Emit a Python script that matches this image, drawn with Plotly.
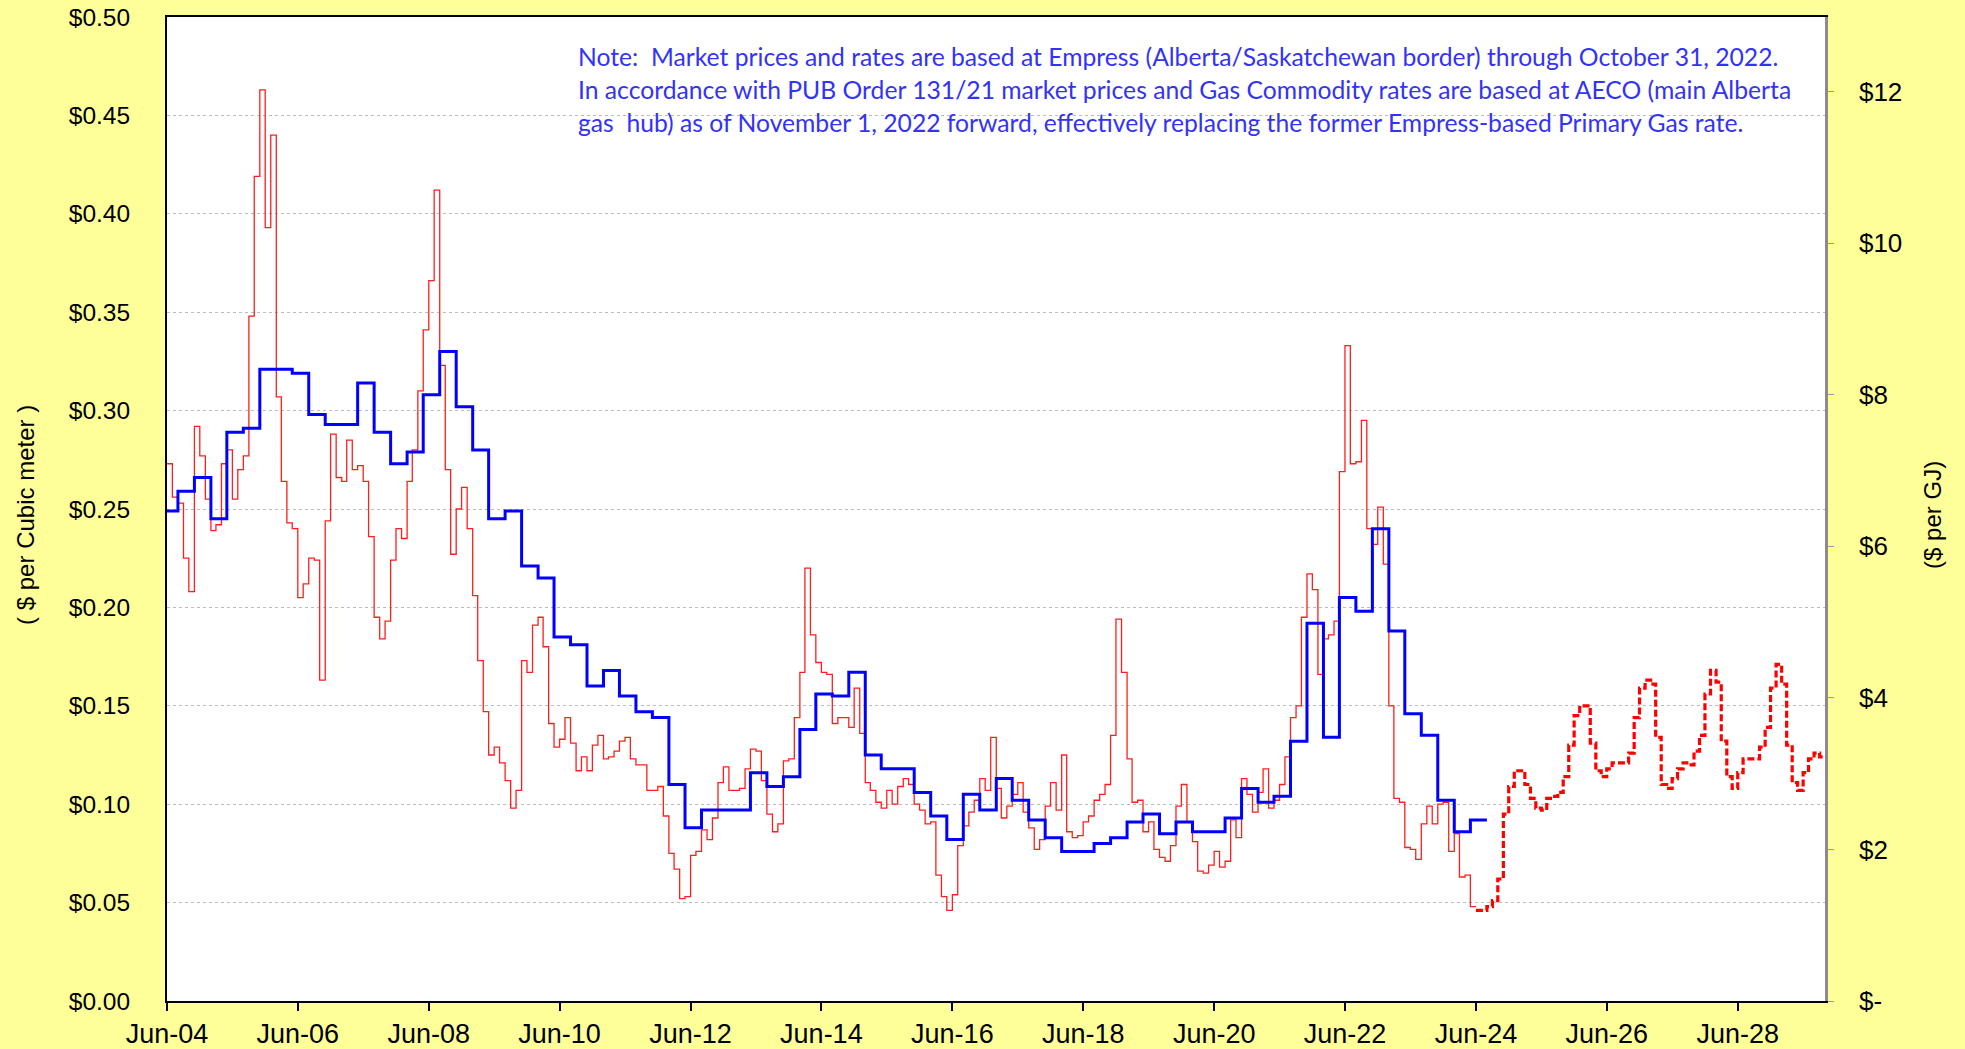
import pandas as pd
import plotly.graph_objects as go

# ---------------- data ----------------
START = "2004-06-01"

# Monthly market price ($ per cubic metre), Jun 2004 - May 2024
market_price = [
    0.273, 0.256, 0.253, 0.225, 0.208, 0.292, 0.277, 0.255, 0.239, 0.242,
    0.273, 0.280, 0.255, 0.270, 0.277, 0.348, 0.419, 0.463, 0.393, 0.440,
    0.307, 0.264, 0.243, 0.240, 0.205, 0.212, 0.225, 0.224, 0.163, 0.244,
    0.288, 0.266, 0.264, 0.285, 0.270, 0.272, 0.264, 0.236, 0.195, 0.184,
    0.193, 0.224, 0.240, 0.235, 0.264, 0.280, 0.310, 0.341, 0.366, 0.412,
    0.323, 0.270, 0.227, 0.250, 0.261, 0.240, 0.206, 0.173, 0.147, 0.125,
    0.129, 0.121, 0.112, 0.098, 0.107, 0.173, 0.167, 0.191, 0.195, 0.180,
    0.141, 0.129, 0.133, 0.144, 0.131, 0.117, 0.124, 0.117, 0.130, 0.135,
    0.123, 0.124, 0.127, 0.132, 0.134, 0.123, 0.120, 0.120, 0.107, 0.107,
    0.109, 0.094, 0.075, 0.067, 0.052, 0.053, 0.074, 0.076, 0.087, 0.082,
    0.093, 0.111, 0.119, 0.107, 0.107, 0.108, 0.118, 0.128, 0.127, 0.112,
    0.095, 0.086, 0.090, 0.122, 0.123, 0.144, 0.167, 0.220, 0.186, 0.172,
    0.167, 0.166, 0.141, 0.144, 0.144, 0.139, 0.159, 0.136, 0.111, 0.107,
    0.101, 0.098, 0.107, 0.100, 0.109, 0.113, 0.110, 0.100, 0.097, 0.090,
    0.091, 0.064, 0.053, 0.046, 0.054, 0.079, 0.089, 0.096, 0.102, 0.113,
    0.107, 0.134, 0.108, 0.093, 0.099, 0.105, 0.111, 0.096, 0.088, 0.077,
    0.082, 0.099, 0.111, 0.097, 0.125, 0.086, 0.083, 0.084, 0.091, 0.094,
    0.102, 0.105, 0.110, 0.135, 0.194, 0.167, 0.123, 0.101, 0.102, 0.086,
    0.091, 0.077, 0.073, 0.071, 0.079, 0.099, 0.110, 0.091, 0.081, 0.066,
    0.065, 0.069, 0.076, 0.068, 0.071, 0.092, 0.083, 0.113, 0.105, 0.096,
    0.106, 0.118, 0.098, 0.102, 0.110, 0.124, 0.144, 0.150, 0.195, 0.217,
    0.209, 0.166, 0.184, 0.186, 0.193, 0.269, 0.333, 0.273, 0.274, 0.295,
    0.240, 0.232, 0.251, 0.222, 0.150, 0.103, 0.101, 0.078, 0.077, 0.072,
    0.090, 0.099, 0.090, 0.100, 0.101, 0.076, 0.085, 0.063, 0.064, 0.048,
]

# Monthly forward market price ($ per cubic metre), Jun 2024 - Sep 2029
FORECAST_START = "2024-06-01"
forecast_price = [
    0.046, 0.046, 0.048, 0.051, 0.062, 0.095, 0.109, 0.117, 0.117, 0.110,
    0.103, 0.098, 0.097, 0.103, 0.104, 0.106, 0.114, 0.130, 0.145, 0.150,
    0.150, 0.131, 0.117, 0.114, 0.118, 0.121, 0.121, 0.121, 0.126, 0.144,
    0.159, 0.163, 0.161, 0.134, 0.110, 0.108, 0.113, 0.118, 0.121, 0.120,
    0.127, 0.135, 0.156, 0.168, 0.162, 0.132, 0.114, 0.108, 0.116, 0.123,
    0.123, 0.123, 0.129, 0.139, 0.159, 0.171, 0.161, 0.130, 0.111, 0.107,
    0.116, 0.123, 0.126, 0.124,
]

# Gas commodity / primary gas rate ($ per cubic metre): start month and value
rate_start = [
    "2004-06", "2004-08", "2004-11", "2005-02", "2005-05", "2005-08", "2005-11",
    "2006-05", "2006-08", "2006-11", "2007-05", "2007-08", "2007-11", "2008-02",
    "2008-05", "2008-08", "2008-11", "2009-02", "2009-05", "2009-08", "2009-11",
    "2010-02", "2010-05", "2010-08", "2010-11", "2011-02", "2011-05", "2011-08",
    "2011-11", "2012-02", "2012-05", "2012-08", "2013-05", "2013-08", "2013-11",
    "2014-02", "2014-05", "2014-08", "2014-11", "2015-02", "2015-05", "2015-11",
    "2016-02", "2016-05", "2016-08", "2016-11", "2017-02", "2017-05", "2017-08",
    "2017-11", "2018-02", "2018-08", "2018-11", "2019-02", "2019-05", "2019-08",
    "2019-11", "2020-02", "2020-08", "2020-11", "2021-02", "2021-05", "2021-08",
    "2021-11", "2022-02", "2022-05", "2022-08", "2022-11", "2023-02", "2023-05",
    "2023-08", "2023-11", "2024-02", "2024-05",
]
rate_value = [
    0.249, 0.259, 0.266, 0.245, 0.289, 0.291, 0.321,
    0.319, 0.298, 0.293, 0.314, 0.289, 0.273, 0.279,
    0.308, 0.330, 0.302, 0.280, 0.245, 0.249, 0.221,
    0.215, 0.185, 0.181, 0.160, 0.168, 0.155, 0.147,
    0.144, 0.110, 0.088, 0.097, 0.116, 0.109, 0.114,
    0.138, 0.156, 0.155, 0.167, 0.125, 0.118, 0.106,
    0.094, 0.082, 0.105, 0.097, 0.113, 0.102, 0.092,
    0.083, 0.076, 0.080, 0.083, 0.091, 0.095, 0.085,
    0.091, 0.086, 0.093, 0.108, 0.101, 0.104, 0.132,
    0.192, 0.134, 0.205, 0.198, 0.240, 0.188, 0.146,
    0.135, 0.102, 0.086, 0.092,
]
RATE_END = "2024-08"

GJ_PER_M3 = 0.0385
left_ticks = [0.0, 0.05, 0.10, 0.15, 0.20, 0.25, 0.30, 0.35, 0.40, 0.45, 0.50]
right_ticks = [0, 2, 4, 6, 8, 10, 12]
right_tick_text = ["$-", "$2", "$4", "$6", "$8", "$10", "$12"]
x_tick_labels = ["Jun-04", "Jun-06", "Jun-08", "Jun-10", "Jun-12", "Jun-14", "Jun-16",
                 "Jun-18", "Jun-20", "Jun-22", "Jun-24", "Jun-26", "Jun-28"]
X_END = "2029-10-01"

note_lines = [
    "Note:  Market prices and rates are based at Empress (Alberta/Saskatchewan border) through October 31, 2022.",
    "In accordance with PUB Order 131/21 market prices and Gas Commodity rates are based at AECO (main Alberta",
    "gas  hub) as of November 1, 2022 forward, effectively replacing the former Empress-based Primary Gas rate.",
]

# ---------------- build ----------------
def step_series(start, values):
    x = list(pd.date_range(start, periods=len(values) + 1, freq="MS"))
    y = list(values) + [values[-1]]
    return x, y

mx, my = step_series(START, market_price)
fx, fy = step_series(FORECAST_START, forecast_price)
rx = [pd.Timestamp(s + "-01") for s in rate_start] + [pd.Timestamp(RATE_END + "-01")]
ry = list(rate_value) + [rate_value[-1]]
tick_dates = [pd.Timestamp("20" + t[-2:] + "-06-01") for t in x_tick_labels]
left_tick_text = ["${:.2f}".format(v) for v in left_ticks]

fig = go.Figure()
fig.add_trace(go.Scatter(x=mx, y=my, mode="lines", line_shape="hv",
                         line=dict(color="rgb(255,30,30)", width=1.3),
                         name="Market price", hoverinfo="skip"))
fig.add_trace(go.Scatter(x=fx, y=fy, mode="lines", line_shape="hv",
                         line=dict(color="#FF0000", width=3.2, dash="7px,3px"),
                         name="Forward price", hoverinfo="skip"))
fig.add_trace(go.Scatter(x=rx, y=ry, mode="lines", line_shape="hv",
                         line=dict(color="#0000FF", width=3),
                         name="Rate", hoverinfo="skip"))
# same market data on the $/GJ scale (invisible) so the right axis is drawn
fig.add_trace(go.Scatter(x=mx, y=[v / GJ_PER_M3 for v in my], yaxis="y2",
                         mode="lines", line=dict(color="rgba(0,0,0,0)", width=0),
                         hoverinfo="skip", showlegend=False))

FONT = "Liberation Sans, Arial, sans-serif"

fig.update_layout(
    width=1965, height=1049,
    paper_bgcolor="#FFFF99", plot_bgcolor="white",
    margin=dict(l=167, r=140, t=17, b=48, autoexpand=False),
    showlegend=False,
    xaxis=dict(
        type="date", range=[START, X_END], automargin=False,
        tickvals=tick_dates, ticktext=x_tick_labels,
        ticks="outside", ticklen=8, tickwidth=1.5, tickcolor="black",
        showline=True, linecolor="black", linewidth=1.5, mirror=True,
        showgrid=False, zeroline=False,
        tickfont=dict(family=FONT, size=27, color="black"),
    ),
    yaxis=dict(
        range=[0, 0.5], automargin=False,
        tickvals=left_ticks, ticktext=left_tick_text,
        ticks="", ticklabelstandoff=30,
        showline=True, linecolor="black", linewidth=2,
        showgrid=True, gridcolor="#BBBBBB", gridwidth=1, griddash="dot",
        zeroline=False, tickfont=dict(family=FONT, size=24.5, color="black"),
    ),
    yaxis2=dict(
        overlaying="y", side="right", range=[0, 0.5 / GJ_PER_M3], automargin=False,
        tickvals=right_ticks, ticktext=right_tick_text,
        ticks="outside", ticklen=6, tickcolor="#999999", ticklabelstandoff=20,
        showline=True, linecolor="#8C8C8C", linewidth=2.5,
        showgrid=False, zeroline=False,
        tickfont=dict(family=FONT, size=26, color="black"),
    ),
)

annotations = [
    dict(text="( $ per Cubic meter )", xref="paper", yref="paper",
         x=(26 - 167) / 1658, y=0.494, textangle=-90, showarrow=False,
         xanchor="center", yanchor="middle",
         font=dict(family=FONT, size=24, color="black")),
    dict(text="($ per GJ)", xref="paper", yref="paper",
         x=(1933 - 167) / 1658, y=0.494, textangle=-90, showarrow=False,
         xanchor="center", yanchor="middle",
         font=dict(family=FONT, size=24, color="black")),
]
for i, line in enumerate(note_lines):
    yc = 56.5 + 33.2 * i
    annotations.append(dict(
        text=line, xref="paper", yref="paper",
        x=(575.5 - 167) / 1658, y=(1001 - yc) / 984,
        xanchor="left", yanchor="middle", showarrow=False, align="left",
        font=dict(family="Lato, Carlito, sans-serif", size=24.7, color="#3333F5")))
fig.update_layout(annotations=annotations)

fig.write_html(
    "out.html",
    config={"displayModeBar": False},
    post_script="document.body.style.margin='0';document.body.style.overflow='hidden';",
)
